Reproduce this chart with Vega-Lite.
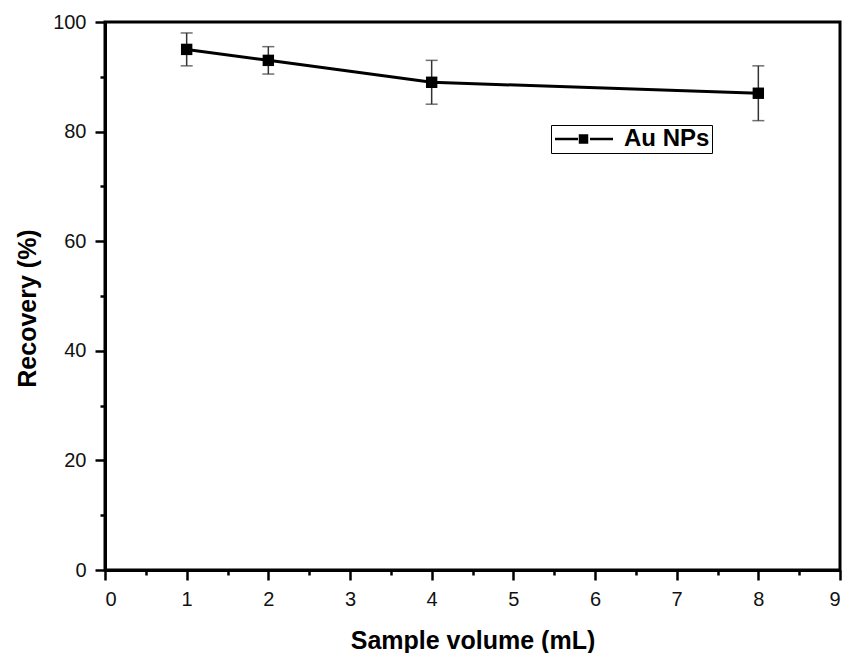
{
  "$schema": "https://vega.github.io/schema/vega-lite/v6.json",
  "width": 735,
  "height": 548,
  "autosize": {"type": "none"},
  "padding": {"left": 105, "top": 22, "right": 9, "bottom": 83},
  "background": "white",
  "config": {
    "font": "Liberation Sans",
    "view": {"stroke": "black", "strokeWidth": 3},
    "axis": {
      "domainColor": "black",
      "domainWidth": 3,
      "tickColor": "black",
      "tickWidth": 2.5,
      "grid": false,
      "labelFont": "Liberation Sans",
      "labelFontSize": 20,
      "labelColor": "#111",
      "titleFont": "Liberation Sans",
      "titleFontSize": 25,
      "titleFontWeight": "bold",
      "titleColor": "black"
    }
  },
  "datasets": {
    "pts": [
      {"volume": 1, "recovery": 95, "lo": 92, "hi": 98, "series": "Au NPs"},
      {"volume": 2, "recovery": 93, "lo": 90.5, "hi": 95.5, "series": "Au NPs"},
      {"volume": 4, "recovery": 89, "lo": 85, "hi": 93, "series": "Au NPs"},
      {"volume": 8, "recovery": 87, "lo": 82, "hi": 92, "series": "Au NPs"}
    ]
  },
  "data": {"name": "pts"},
  "layer": [
    {
      "mark": {"type": "rule", "color": "#333", "strokeWidth": 1.5},
      "encoding": {
        "x": {
          "field": "volume", "type": "quantitative",
          "scale": {"domain": [0, 9], "nice": false, "zero": false},
          "axis": {"orient": "bottom", "values": [0,1,2,3,4,5,6,7,8,9], "tickSize": 10, "labelPadding": 9, "title": "Sample volume (mL)", "titleY": 58, "titleX": 367.5, "titleBaseline": "top", "titleAlign": "center"}
        },
        "y": {
          "field": "lo", "type": "quantitative",
          "scale": {"domain": [0, 100], "nice": false},
          "axis": {"orient": "left", "values": [0,20,40,60,80,100], "tickSize": 10, "labelPadding": 9, "title": "Recovery (%)", "titleX": -65, "titleY": 286, "titleAngle": -90, "titleBaseline": "bottom", "titleAlign": "center"}
        },
        "y2": {"field": "hi"}
      }
    },
    {
      "mark": {"type": "tick", "orient": "horizontal", "color": "#333", "thickness": 1.5, "size": 12},
      "encoding": {
        "x": {
          "field": "volume", "type": "quantitative",
          "axis": {"orient": "bottom", "values": [0.5,1.5,2.5,3.5,4.5,5.5,6.5,7.5,8.5], "tickSize": 5, "labels": false, "domain": false, "title": null}
        },
        "y": {
          "field": "lo", "type": "quantitative",
          "axis": {"orient": "left", "values": [10,30,50,70,90], "tickSize": 5, "labels": false, "domain": false, "title": null}
        }
      }
    },
    {
      "mark": {"type": "tick", "orient": "horizontal", "color": "#333", "thickness": 1.5, "size": 12},
      "encoding": {
        "x": {"field": "volume", "type": "quantitative", "axis": null},
        "y": {"field": "hi", "type": "quantitative", "axis": null}
      }
    },
    {
      "mark": {"type": "line", "color": "black", "strokeWidth": 3},
      "encoding": {
        "x": {"field": "volume", "type": "quantitative", "axis": null},
        "y": {"field": "recovery", "type": "quantitative", "axis": null}
      }
    },
    {
      "mark": {"type": "point", "shape": "square", "filled": true, "size": 130, "opacity": 1},
      "encoding": {
        "x": {"field": "volume", "type": "quantitative", "axis": null},
        "y": {"field": "recovery", "type": "quantitative", "axis": null},
        "color": {
          "field": "series", "type": "nominal",
          "scale": {"range": ["black"]},
          "legend": {
            "title": null,
            "orient": "none",
            "legendX": 446,
            "legendY": 103,
            "direction": "vertical",
            "padding": 2,
            "strokeColor": "black",
            "fillColor": "white",
            "symbolType": "M-1,0H1.3M1.5,-0.35H2.2V0.35H1.5ZM2.5,0H4.8",
            "symbolSize": 400,
            "symbolStrokeWidth": 2.5,
            "symbolStrokeColor": "black",
            "symbolFillColor": "black",
            "symbolOpacity": 1,
            "labelFont": "Liberation Sans",
            "labelFontSize": 24,
            "labelFontWeight": "bold",
            "labelColor": "black",
            "labelOffset": 47
          }
        }
      }
    }
  ],
  "resolve": {"axis": {"x": "independent", "y": "independent"}}
}
